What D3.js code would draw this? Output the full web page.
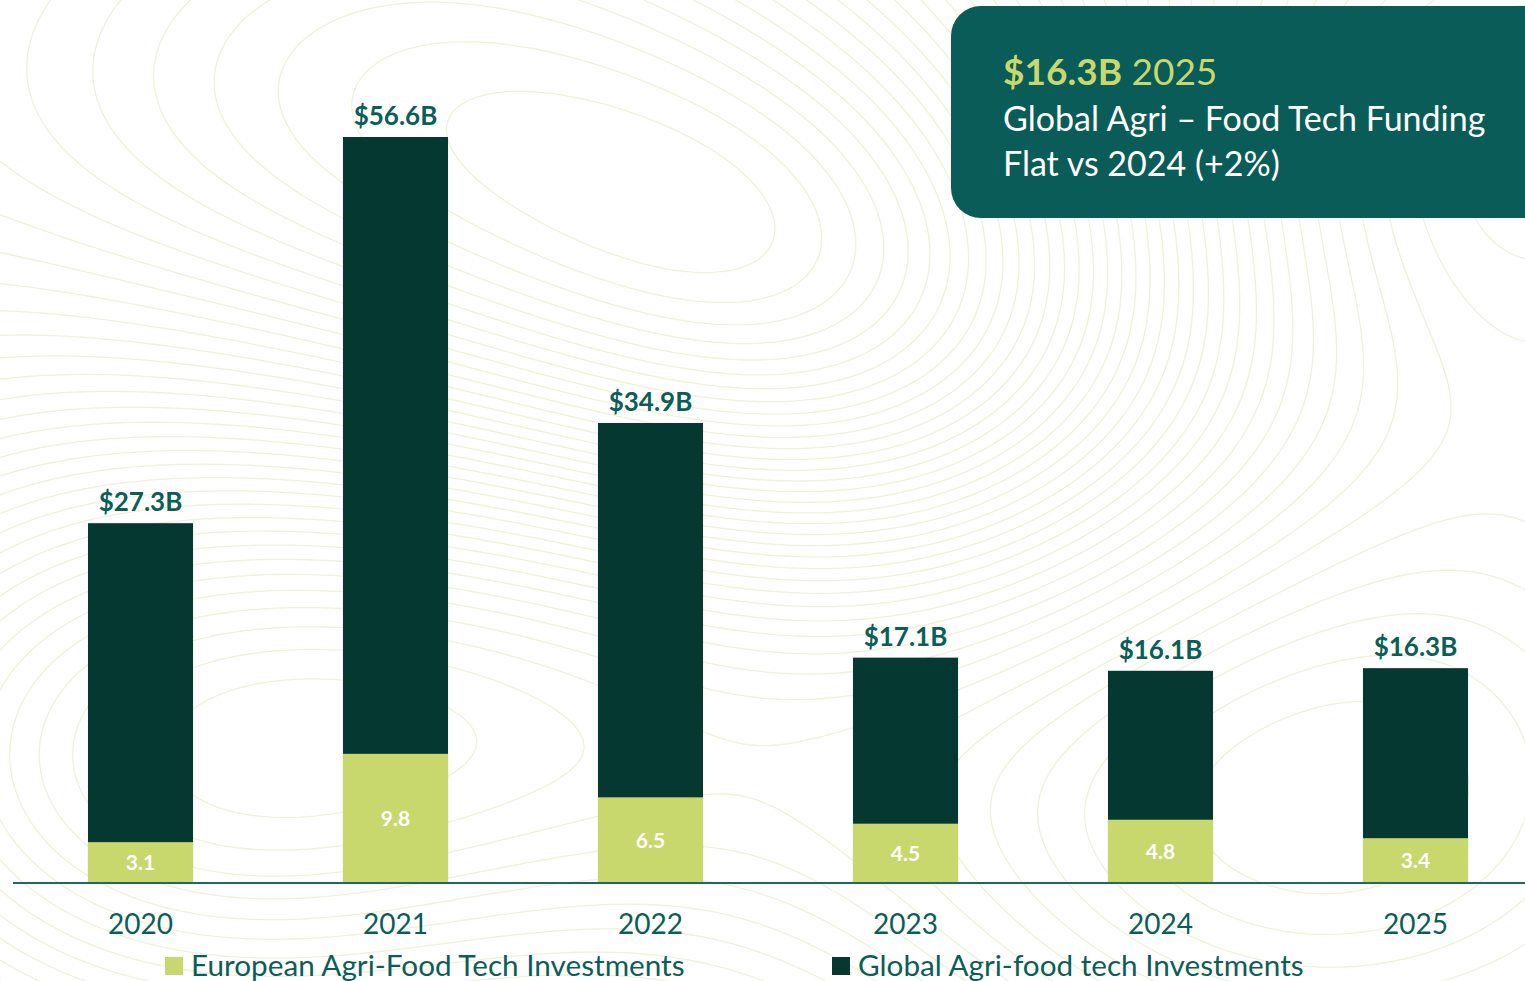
<!DOCTYPE html>
<html><head><meta charset="utf-8">
<script src="https://cdn.jsdelivr.net/npm/d3@7"></script>
<style>
html,body{margin:0;padding:0;background:#fff;}
svg{display:block;font-family:Lato,"Open Sans",sans-serif;}
</style></head>
<body>
<svg id="chart" width="1525" height="981"></svg>
<script>
const years = ["2020","2021","2022","2023","2024","2025"];
const globalTotal = [27.3, 56.6, 34.9, 17.1, 16.1, 16.3];
const european = [3.1, 9.8, 6.5, 4.5, 4.8, 3.4];
const totalLabels = ["$27.3B","$56.6B","$34.9B","$17.1B","$16.1B","$16.3B"];
const seriesNames = ["European Agri-Food Tech Investments","Global Agri-food tech Investments"];
const calloutHead = ["$16.3B", " 2025"];
const calloutLines = ["Global Agri \u2013 Food Tech Funding","Flat vs 2024 (+2%)"];

const C = {dark:"#053830", light:"#c8d86c", teal:"#0b5e57", box:"#0a5c58", axis:"#1d6a62", contour:"#eff1da"};

const svg = d3.select("#chart");
const W = 1525, H = 981;

// faint topographic background (decorative)
(function(){
  const cell = 8, off = 40, nx = Math.ceil((W+2*off)/cell)+1, ny = Math.ceil((H+2*off)/cell)+1;
  const bumps = [[140,760,260,1.0],[850,330,220,-0.8],[1250,800,300,0.9],[420,80,260,-0.6],[1450,150,200,0.5],[620,620,200,0.4]];
  const vals = new Array(nx*ny);
  for (let j=0;j<ny;j++) for (let i=0;i<nx;i++){
    const px=i*cell-off, py=j*cell-off;
    let v = 0.0009*px - 0.0004*py;
    bumps.forEach(b=>{const dx=px-b[0],dy=py-b[1]; v += b[3]*Math.exp(-(dx*dx*0.6+dy*dy)/(2*b[2]*b[2]))*2.2;});
    vals[j*nx+i]=v;
  }
  const ext = d3.extent(vals);
  const cs = d3.contours().size([nx,ny]).thresholds(d3.range(ext[0], ext[1], (ext[1]-ext[0])/40))(vals);
  const path = d3.geoPath(d3.geoTransform({point:function(px,py){this.stream.point(px*cell-off,py*cell-off);}}));
  svg.append("g").attr("fill","none").attr("stroke",C.contour).attr("stroke-width",1.3)
    .selectAll("path").data(cs).join("path").attr("d", path);
})();

const x = d3.scaleBand().domain(years).range([13, 1543]).paddingInner(0.588).paddingOuter(0.294);
const y = d3.scaleLinear().domain([0, 56.6]).range([883, 137]);

const data = years.map((yr, i) => ({year: yr, total: globalTotal[i], eu: european[i], label: totalLabels[i]}));

const g = svg.append("g");
g.selectAll("rect.total").data(data).join("rect").attr("class","total")
  .attr("x", d => x(d.year)).attr("width", x.bandwidth())
  .attr("y", d => y(d.total)).attr("height", d => y(0) - y(d.total))
  .attr("fill", C.dark);
g.selectAll("rect.eu").data(data).join("rect").attr("class","eu")
  .attr("x", d => x(d.year)).attr("width", x.bandwidth())
  .attr("y", d => y(d.eu)).attr("height", d => y(0) - y(d.eu))
  .attr("fill", C.light);

g.selectAll("text.tot").data(data).join("text").attr("class","tot")
  .attr("x", d => x(d.year) + x.bandwidth()/2).attr("y", d => y(d.total) - 12)
  .attr("text-anchor","middle").attr("fill", C.teal)
  .attr("font-size", 26).attr("font-weight", 700).text(d => d.label);

g.selectAll("text.eu").data(data).join("text").attr("class","eu")
  .attr("x", d => x(d.year) + x.bandwidth()/2).attr("y", d => (y(d.eu) + y(0))/2)
  .attr("dy","0.36em").attr("text-anchor","middle").attr("fill", "#ffffff")
  .attr("font-size", 21).attr("font-weight", 700).text(d => d.eu.toFixed(1));

const ax = svg.append("g").attr("transform", `translate(0,${y(0)})`)
  .call(d3.axisBottom(x).tickSize(0).tickPadding(31));
ax.select(".domain").attr("d", `M13,0H${W}`).attr("stroke", C.axis).attr("stroke-width", 2);
ax.selectAll(".tick text").attr("font-size", 28).attr("fill", C.teal).attr("font-family","Lato,sans-serif");

const legendItems = [
  {name: seriesNames[0], color: C.light, x: 165},
  {name: seriesNames[1], color: C.dark, x: 832}
];
const lg = svg.append("g");
legendItems.forEach(it => {
  lg.append("rect").attr("x", it.x).attr("y", 957).attr("width", 18).attr("height", 18).attr("fill", it.color);
  lg.append("text").attr("x", it.x + 26).attr("y", 976).attr("font-size", 29.7).attr("fill", C.teal).text(it.name);
});

const bx = svg.append("g");
bx.append("rect").attr("x", 951).attr("y", 6).attr("width", 640).attr("height", 212).attr("rx", 30).attr("fill", C.box);
const t0 = bx.append("text").attr("x", 1003).attr("y", 85).attr("font-size", 37).attr("fill", C.light);
t0.append("tspan").attr("font-weight", 700).text(calloutHead[0]);
t0.append("tspan").attr("font-weight", 400).text(calloutHead[1]);
calloutLines.forEach((s, i) => {
  bx.append("text").attr("x", 1003).attr("y", 131 + i*45).attr("font-size", 34).attr("fill", "#ffffff").text(s);
});
</script>
</body></html>
